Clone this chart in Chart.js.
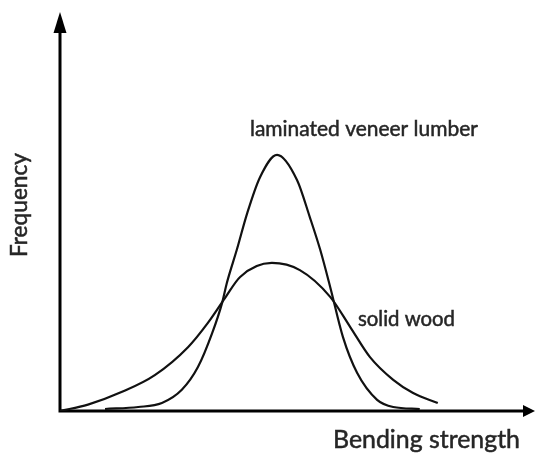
<!DOCTYPE html>
<html>
<head>
<meta charset="utf-8">
<script src="https://cdn.jsdelivr.net/npm/chart.js@4"></script>
<style>
  html, body { margin: 0; padding: 0; background: #fff; }
</style>
</head>
<body>
<canvas id="myChart" width="535" height="454"></canvas>
<script>
// bending strength (arbitrary units, 0-100) and frequency (arbitrary units, 0-100)
const solidX = [0, 5.9, 13.1, 20.0, 27.0, 31.2, 34.8, 38.0, 44.7, 50.6, 57.0, 61.2, 65.4, 70.3, 74.5, 79.7];
const solidY = [0, 1.6, 4.8, 9.0, 16.0, 22.1, 28.3, 33.6, 37.1, 35.3, 28.6, 21.1, 13.5, 7.8, 4.5, 2.0];

const lvlX = [9.5, 16.5, 21.5, 25.7, 29.1, 32.1, 34.2, 35.2, 37.3, 39.5, 42.2, 45.8, 50.0, 52.7, 54.9, 57.0, 59.7, 62.7, 66.9, 70.3, 75.9];
const lvlY = [0.5, 1.0, 2.0, 5.3, 11.0, 19.5, 27.1, 32.1, 40.4, 49.6, 58.6, 64.2, 57.9, 48.6, 40.4, 31.1, 18.5, 9.5, 2.8, 1.0, 0.5];

const seriesNames = ['solid wood', 'laminated veneer lumber'];
const xTitle = 'Bending strength';
const yTitle = 'Frequency';

function toPoints(xs, ys) {
    return xs.map(function (x, i) { return { x: x, y: ys[i] }; });
}

// scale font so the text has the wanted width
function fitFont(ctx, text, width) {
    ctx.font = '20px Lato';
    const size = 20 * width / ctx.measureText(text).width;
    return size.toFixed(2) + 'px Lato';
}

function drawLabel(ctx, text, x, y) {
    ctx.fillText(text, x, y);
    ctx.strokeText(text, x, y);
}

const axesPlugin = {
    id: 'arrowAxes',
    beforeDatasetsDraw(chart) {
        const ctx = chart.ctx;
        const x0 = chart.scales.x.getPixelForValue(0);
        const y0 = chart.scales.y.getPixelForValue(0);
        const yTop = chart.chartArea.top;
        const xEnd = chart.chartArea.right + 1;
        ctx.save();
        ctx.strokeStyle = '#000';
        ctx.fillStyle = '#000';
        ctx.lineWidth = 3;
        ctx.beginPath();
        ctx.moveTo(x0, y0);
        ctx.lineTo(x0, yTop + 18);
        ctx.moveTo(x0 - 1.5, y0);
        ctx.lineTo(xEnd - 10, y0);
        ctx.stroke();
        // arrow heads
        ctx.beginPath();
        ctx.moveTo(x0, yTop);
        ctx.lineTo(x0 - 6.5, yTop + 21);
        ctx.lineTo(x0 + 6.5, yTop + 21);
        ctx.closePath();
        ctx.fill();
        ctx.beginPath();
        ctx.moveTo(xEnd, y0);
        ctx.lineTo(xEnd - 12, y0 - 6);
        ctx.lineTo(xEnd - 12, y0 + 6);
        ctx.closePath();
        ctx.fill();
        ctx.restore();
    },
    afterDraw(chart) {
        const ctx = chart.ctx;
        ctx.save();
        ctx.fillStyle = '#262626';
        ctx.strokeStyle = '#262626';
        ctx.lineWidth = 0.5;
        ctx.textAlign = 'left';
        ctx.textBaseline = 'alphabetic';
        ctx.font = fitFont(ctx, seriesNames[1], 228);
        drawLabel(ctx, seriesNames[1], 250, 136);
        ctx.font = fitFont(ctx, seriesNames[0], 97);
        drawLabel(ctx, seriesNames[0], 358, 326);
        ctx.font = fitFont(ctx, xTitle, 187);
        drawLabel(ctx, xTitle, 333, 448);
        ctx.translate(27, 257);
        ctx.rotate(-Math.PI / 2);
        ctx.font = fitFont(ctx, yTitle, 104);
        drawLabel(ctx, yTitle, 0, 0);
        ctx.restore();
    }
};

function myLoadFunction() {
    const ctx = document.getElementById('myChart').getContext('2d');
    var myChartConfig = {
        type: 'line',
        data: {
            datasets: [
                {
                    label: seriesNames[0],
                    data: toPoints(solidX, solidY),
                    borderColor: '#111',
                    borderWidth: 2.2,
                    pointRadius: 0,
                    fill: false,
                    cubicInterpolationMode: 'monotone'
                },
                {
                    label: seriesNames[1],
                    data: toPoints(lvlX, lvlY),
                    borderColor: '#111',
                    borderWidth: 2.2,
                    pointRadius: 0,
                    fill: false,
                    cubicInterpolationMode: 'monotone'
                }
            ]
        },
        options: {
            responsive: false,
            animation: false,
            devicePixelRatio: 1,
            layout: { padding: { left: 60, right: 1, top: 12, bottom: 43 } },
            plugins: {
                legend: { display: false },
                tooltip: { enabled: false }
            },
            scales: {
                x: { type: 'linear', min: 0, max: 100, display: false },
                y: { type: 'linear', min: 0, max: 100, display: false }
            }
        },
        plugins: [axesPlugin]
    };
    const myChart = new Chart(ctx, myChartConfig);
}

document.addEventListener('DOMContentLoaded', myLoadFunction);
</script>
</body>
</html>
